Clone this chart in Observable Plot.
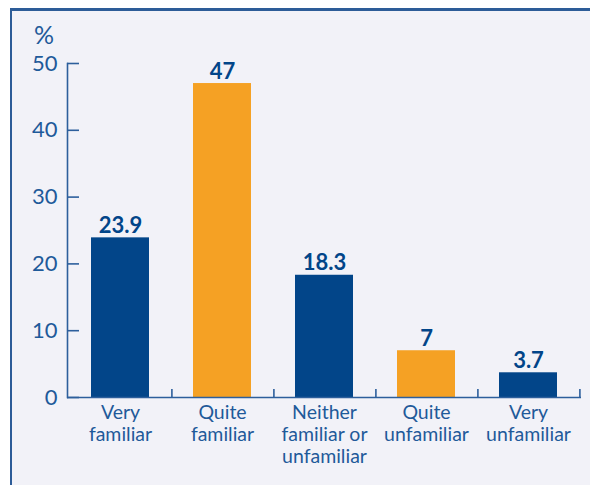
<!DOCTYPE html>
<html>
<head>
<meta charset="utf-8">
<script src="https://cdn.jsdelivr.net/npm/d3@7"></script>
<script src="https://cdn.jsdelivr.net/npm/@observablehq/plot@0.6"></script>
<style>
  html, body { margin: 0; padding: 0; background: #ffffff; }
  #wrap { position: relative; width: 590px; height: 485px; overflow: hidden; }
  #frame { position: absolute; left: 10px; top: 8px; width: 580px; height: 477px;
           background: #f2f2f8; border-top: 3px solid #2d5c98; border-left: 2px solid #2d5c98; box-sizing: border-box; }
  #pct { position: absolute; left: 34px; top: 19px; font: 25px Lato, sans-serif; color: #1f5a9a; }
  #chart { position: absolute; left: 0; top: 0; }
</style>
</head>
<body>
<div id="wrap">
  <div id="frame"></div>
  <div id="chart"></div>
  <div id="pct">%</div>
</div>
<script>
const categories = ["Very familiar", "Quite familiar", "Neither familiar or unfamiliar", "Quite unfamiliar", "Very unfamiliar"];
const categoryLabels = ["Very\nfamiliar", "Quite\nfamiliar", "Neither\nfamiliar or\nunfamiliar", "Quite\nunfamiliar", "Very\nunfamiliar"];
const values = [23.9, 47, 18.3, 7, 3.7];
const valueLabels = ["23.9", "47", "18.3", "7", "3.7"];
const barGroups = ["dark", "light", "dark", "light", "dark"];
const yTicks = [0, 10, 20, 30, 40, 50];

const data = categories.map((c, i) => ({cat: c, value: values[i], label: valueLabels[i], group: barGroups[i]}));
const labelOf = new Map(categories.map((c, i) => [c, categoryLabels[i]]));

const W = 590, H = 485, mL = 67, mR = 9, mT = 63, mB = 88;
const axisColor = "#2d5f9c";
const textColor = "#1f5a9a";
const halfBand = (W - mL - mR) / categories.length / 2;

const chart = Plot.plot({
  width: W, height: H,
  marginLeft: mL, marginRight: mR, marginTop: mT, marginBottom: mB,
  style: {background: "transparent", fontFamily: "Lato, sans-serif", color: textColor},
  x: {domain: categories, paddingInner: 0.436, paddingOuter: 0.218, label: null},
  y: {domain: [0, 50], label: null},
  color: {domain: ["dark", "light"], range: ["#024589", "#f5a124"]},
  marks: [
    Plot.barY(data, {x: "cat", y: "value", fill: "group"}),
    Plot.text(data, {x: "cat", y: "value", text: "label", lineAnchor: "bottom", dy: -5,
      fontSize: 22, fontWeight: "bold", fill: "#024589"}),
    Plot.axisY({ticks: yTicks, tickSize: 0, tickPadding: 10, fontSize: 22, fill: textColor, label: null}),
    Plot.ruleY(yTicks, {y: d => d, insetRight: (W - mL - mR) - 12, stroke: axisColor, strokeWidth: 1.6}),
    Plot.frame({anchor: "left", stroke: axisColor, strokeWidth: 1.6}),
    Plot.ruleY([0], {stroke: axisColor, strokeWidth: 1.6}),
    Plot.ruleX(categories, {x: d => d, dx: halfBand, y1: 0, y2: 1.2, stroke: axisColor, strokeWidth: 1.6}),
    Plot.axisX({tickSize: 0, tickPadding: 6, fontSize: 19.5, fill: textColor, label: null,
      tickFormat: d => labelOf.get(d), lineHeight: 1.13})
  ]
});
document.getElementById("chart").appendChild(chart);
</script>
</body>
</html>
